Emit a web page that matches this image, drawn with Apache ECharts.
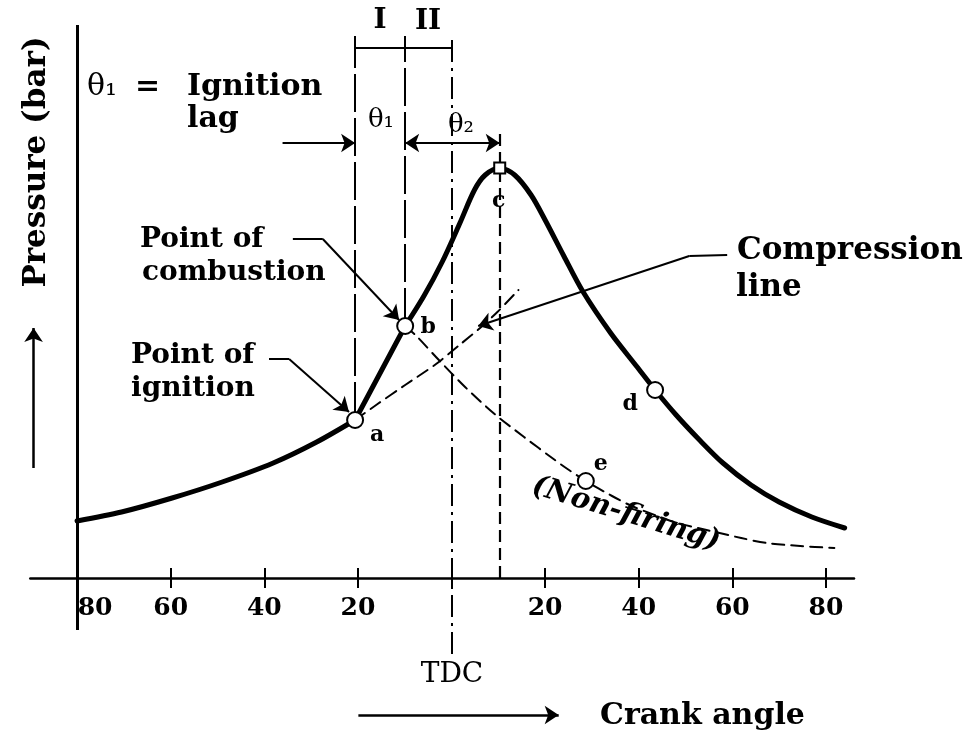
<!DOCTYPE html>
<html><head><meta charset="utf-8">
<script src="https://cdn.jsdelivr.net/npm/echarts@6/dist/echarts.min.js"></script>
<style>html,body{margin:0;padding:0;background:#fff}#c{width:979px;height:731px}</style>
</head><body><div id="c"></div>
<script>
// ---------- data (x = crank angle in degrees, y = pressure, arbitrary units) ----------
const tickValues  = [-60, -40, -20, 0, 20, 40, 60, 80];
const labelValues = [-80, -60, -40, -20, 20, 40, 60, 80];
const tickLabels  = ['80', '60', '40', '20', '20', '40', '60', '80'];

const beforeIgnition = [[-80,57],[-70.5,66],[-59.7,80],[-49,96],[-38.1,115],[-28.8,136],[-20.6,158]];
const ignitionDelay  = [[-20.6,158],[-9.9,252]];
const combustion     = [[-9.9,252],[-5.9,282],[-2,316],[1.8,355],[4.9,388],[7.2,403],[10.3,410],[13.5,403],[17,383],[20,358],[24,322],[28,287],[34,245],[39.5,212],[43.5,188],[48,163],[53,138],[58,115],[64,93],[70,76],[77,61],[84,50]];
const compressionLine = [[-20.6,158],[-15.8,174],[-9.9,193],[-3.3,214],[1.7,233],[6.1,250],[9.8,266],[14.3,288]];
const nonFiring      = [[-9.9,252],[-7.5,242],[-2.7,218],[2.9,191],[9.2,164],[15.5,141],[21.8,119],[25.1,108],[28.7,97],[34.3,82],[38.5,72],[44,62],[48.2,55],[54.5,48],[61.9,40],[67.3,35],[74.5,32],[81.8,30]];

const pointNames = ['a', 'b', 'c', 'd', 'e'];
const pointX     = [-20.6, -9.9, 10.3, 43.5, 28.7];
const pointY     = [158, 252, 410, 188, 97];

const aX = pointX[0], bX = pointX[1], cX = pointX[2];

// ---------- styles ----------
const FONT = '"DejaVu Serif", "Liberation Serif", serif';
const labelOffsets = { a: [22, 15], b: [23, 1], c: [-1, 33], d: [-25, 14], e: [15, -17] };

function curve(data, width, type, smooth, z) {
  return { type: 'line', data: data, smooth: smooth, symbol: 'none', silent: true, z: z || 3,
    lineStyle: { color: '#000', width: width, type: type, cap: 'round', join: 'round' } };
}
function segs(list, width, type, symbols, z) {
  return { type: 'lines', coordinateSystem: 'cartesian2d', clip: false, silent: true, z: z || 2,
    symbol: symbols || 'none', symbolSize: 14,
    lineStyle: { color: '#000', width: width, type: type, opacity: 1, curveness: 0 },
    data: list.map(c => ({ coords: c })) };
}
function txt(text, x, y, size, opts) {
  opts = opts || {};
  return { type: 'text', x: x, y: y, rotation: opts.rot || 0, z: 50,
    style: { text: text, x: 0, y: 0, fill: '#000',
      font: (opts.style || '') + ' ' + (opts.weight || 'bold') + ' ' + size + 'px ' + FONT,
      align: opts.align || 'left', textAlign: opts.align || 'left',
      verticalAlign: 'middle', textVerticalAlign: 'middle' } };
}

const chart = echarts.init(document.getElementById('c'), null, { renderer: 'canvas' });

const option = {
  backgroundColor: '#fff',
  animation: false,
  grid: { left: 30.3, right: 125, top: 25, bottom: 153, containLabel: false, outerBoundsMode: 'none' },
  xAxis: [{
    type: 'value', min: -90, max: 86, position: 'bottom',
    axisLine: { onZero: false, lineStyle: { color: '#000', width: 2.5 } },
    axisTick: { customValues: tickValues, length: 10, lineStyle: { color: '#000', width: 2 } },
    axisLabel: {
      customValues: labelValues, margin: 18, color: '#000',
      fontFamily: FONT, fontWeight: 'bold', fontSize: 25,
      formatter: v => { const t = tickLabels[labelValues.indexOf(v)]; return v === -80 ? '{L|' + t + '}' : t; },
      rich: { L: { padding: [0, 0, 0, 36], fontFamily: FONT, fontWeight: 'bold', fontSize: 25, color: '#000' } }
    },
    splitLine: { show: false }
  }, {
    type: 'value', min: -90, max: 86, position: 'bottom', offset: 0,
    axisLine: { show: false, onZero: false },
    axisTick: { inside: true, customValues: tickValues, length: 10, lineStyle: { color: '#000', width: 2 } },
    axisLabel: { show: false },
    splitLine: { show: false }
  }],
  yAxis: {
    type: 'value', min: 0, max: 553,
    axisLine: { show: false, onZero: false }, axisTick: { show: false },
    axisLabel: { show: false }, splitLine: { show: false }
  },
  series: [
    // pressure axis (extends below the crank-angle axis)
    segs([[[-80, -52], [-80, 553]]], 3, 'solid'),
    // reference verticals
    segs([[[aX, pointY[0]], [aX, 542]], [[bX, pointY[1]], [bX, 542]]], 2, [38, 6]),
    segs([[[0, -76], [0, 542]]], 2, [22, 6, 3, 6]),
    segs([[[cX, 0], [cX, 447]]], 2.2, [12, 6]),
    // I / II bracket
    segs([[[aX, 530], [0, 530]]], 2, 'solid'),
    // theta dimension arrows
    segs([[[-36.1, 435], [aX, 435]]], 2, 'solid', ['none', 'arrow']),
    segs([[[bX, 435], [cX, 435]]], 2, 'solid', ['arrow', 'arrow']),
    // leader lines
    segs([[[-33.9, 339], [-27.5, 339]], [[-39, 219], [-34.7, 219]], [[58.9, 323], [50.8, 322]]], 2, 'solid'),
    segs([[[-27.5, 339], [-11.2, 258]], [[-34.7, 219], [-21.9, 166]], [[50.8, 322], [5.7, 252]]], 2, 'solid', ['none', 'arrow']),
    // direction arrows
    segs([[[-19.9, -137], [22.9, -137]]], 2.5, 'solid', ['none', 'arrow']),
    segs([[[-89.3, 110], [-89.3, 250]]], 2.5, 'solid', ['none', 'arrow']),
    // curves
    curve(beforeIgnition, 5, 'solid', 0.3, 4),
    curve(ignitionDelay, 5, 'solid', false, 4),
    curve(combustion, 5, 'solid', 0.3, 4),
    curve(compressionLine, 2, [12, 7], 0.3, 3),
    curve(nonFiring, 2, [12, 7], 0.3, 3),
    // key points
    {
      type: 'scatter', z: 10, silent: true,
      data: pointNames.map((n, i) => ({
        name: n, value: [pointX[i], pointY[i]],
        symbol: n === 'c' ? 'rect' : 'circle', symbolSize: n === 'c' ? 11 : 16,
        label: { offset: labelOffsets[n] }
      })),
      itemStyle: { color: '#fff', borderColor: '#000', borderWidth: 2, opacity: 1 },
      label: { show: true, position: 'inside', formatter: p => p.name, color: '#000',
        fontFamily: FONT, fontWeight: 'bold', fontSize: 22 }
    }
  ],
  graphic: [
    txt('Pressure (bar)', 37, 162, 31, { align: 'center', rot: Math.PI / 2 }),
    txt('θ₁', 87, 87, 30, { weight: 'normal' }),
    txt('=', 135, 87, 30),
    txt('Ignition', 187, 87, 30),
    txt('lag', 187, 119, 30),
    txt('I', 380, 21, 28, { align: 'center' }),
    txt('II', 428, 22, 28, { align: 'center' }),
    txt('θ₁', 381, 120, 26, { align: 'center', weight: 'normal' }),
    txt('θ₂', 461, 125, 26, { align: 'center', weight: 'normal' }),
    txt('Point of', 140, 240, 28),
    txt('combustion', 142, 273, 28),
    txt('Point of', 131, 356, 28),
    txt('ignition', 131, 389, 28),
    txt('Compression', 737, 251, 31),
    txt('line', 736, 288, 31),
    txt('(Non-firing)', 626, 514, 29, { align: 'center', style: 'italic', rot: -17 * Math.PI / 180 }),
    txt('TDC', 452, 675, 28, { align: 'center', weight: 'normal' }),
    txt('Crank angle', 600, 716, 30)
  ]
};
chart.setOption(option);
</script>
</body></html>
